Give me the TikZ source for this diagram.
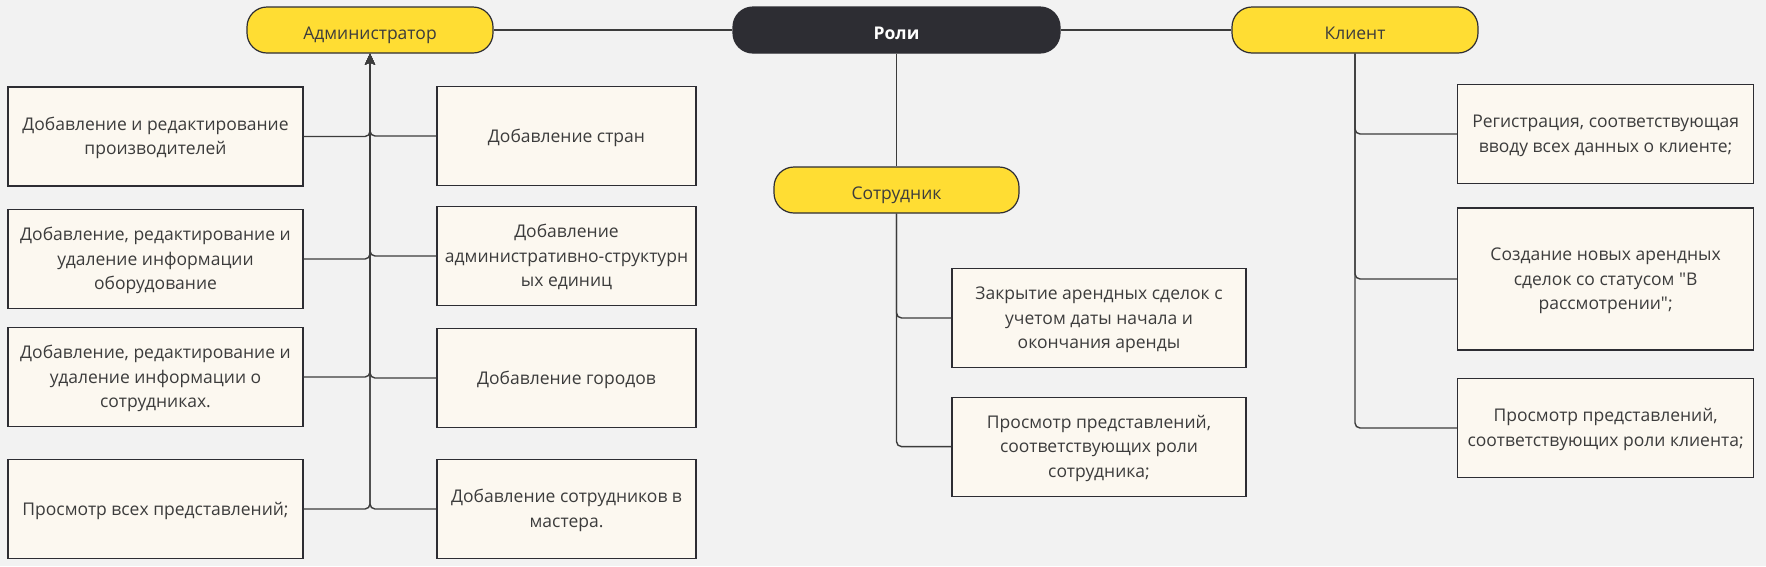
\documentclass[tikz,border=0pt]{standalone}
\usepackage{fontspec}
\setmainfont{Open Sans}[Ligatures=TeXOff]
\usetikzlibrary{arrows.meta}
\definecolor{bg}{HTML}{F2F2F2}
\definecolor{boxfill}{HTML}{FCF8F0}
\definecolor{ylw}{HTML}{FFDD33}
\definecolor{dark}{HTML}{2D2D33}
\definecolor{txt}{HTML}{3C3C3C}
\definecolor{ln}{HTML}{3C3C3C}
\newcommand\bxt[1]{\rule{0pt}{16.5pt}#1\rule[-4.2pt]{0pt}{0pt}}
\begin{document}
\begin{tikzpicture}[x=1pt,y=-1pt,
 box/.style={draw=dark, line width=1.2pt, fill=boxfill, minimum height=99pt, align=center, text=txt, font=\fontsize{17.5}{24.5}\selectfont, inner sep=0pt},
 pill/.style={draw=dark, line width=1.2pt, fill=ylw, rounded corners=20pt, minimum height=46pt, minimum width=246pt, text=txt, font=\fontsize{17.5}{22}\selectfont, inner sep=0pt, text height=22.5pt, text depth=4pt},
 conn/.style={draw=ln, line width=1.4pt, rounded corners=5pt},
 arr/.style={-{Stealth[length=11pt,width=10pt,inset=2pt]}}]
\fill[bg] (0,0) rectangle (1766,566);
\useasboundingbox (0,0) rectangle (1766,566);

% top pills
\node[pill] (admin) at (370,30) {Администратор};
\node[pill, fill=dark, draw=dark, text=white, minimum width=327pt, font=\fontsize{17.5}{22}\selectfont\bfseries] (roli) at (896.5,30) {Роли};
\node[pill] (client) at (1355,30) {Клиент};
\node[pill, minimum width=245pt] (sotr) at (896.5,190) {Сотрудник};

% admin left boxes
\node[box, minimum width=295pt] (L1) at (155.5,136.5) {\bxt{Добавление и редактирование\\производителей}};
\node[box, minimum width=295pt] (L2) at (155.5,259) {\bxt{Добавление, редактирование и\\удаление информации\\оборудование}};
\node[box, minimum width=295pt] (L3) at (155.5,377) {\bxt{Добавление, редактирование и\\удаление информации о\\сотрудниках.}};
\node[box, minimum width=295pt] (L4) at (155.5,509) {\bxt{Просмотр всех представлений;}};

% admin right boxes
\node[box, minimum width=259pt] (R1) at (566.5,136) {\bxt{Добавление стран}};
\node[box, minimum width=259pt] (R2) at (566.5,256) {\bxt{Добавление\\административно-структурн\\ых единиц}};
\node[box, minimum width=259pt] (R3) at (566.5,378) {\bxt{Добавление городов}};
\node[box, minimum width=259pt] (R4) at (566.5,509) {\bxt{Добавление сотрудников в\\мастера.}};

% employee boxes
\node[box, minimum width=294pt] (S1) at (1099,318) {\bxt{Закрытие арендных сделок с\\учетом даты начала и\\окончания аренды}};
\node[box, minimum width=294pt] (S2) at (1099,446.6) {\bxt{Просмотр представлений,\\соответствующих роли\\сотрудника;}};

% client boxes
\node[box, minimum width=296pt] (C1) at (1605.6,134) {\bxt{Регистрация, соответствующая\\вводу всех данных о клиенте;}};
\node[box, minimum width=296pt, minimum height=142pt] (C2) at (1605.6,279) {\bxt{Создание новых арендных\\сделок со статусом "В\\рассмотрении";}};
\node[box, minimum width=296pt] (C3) at (1605.6,428) {\bxt{Просмотр представлений,\\соответствующих роли клиента;}};

% top connectors
\draw[conn] (admin.east) -- (roli.west);
\draw[conn] (roli.east) -- (client.west);
\draw[conn] (roli.south) -- (sotr.north);

% admin connectors
\foreach \b in {L1,L2,L3,L4} {\draw[conn,arr] (\b.east) -| (admin.south);}
\foreach \b in {R1,R2,R3,R4} {\draw[conn,arr] (\b.west) -| (admin.south);}

% employee connectors
\foreach \b in {S1,S2} {\draw[conn] (sotr.south) |- (\b.west);}

% client connectors
\foreach \b in {C1,C2,C3} {\draw[conn] (client.south) |- (\b.west);}
\end{tikzpicture}
\end{document}
